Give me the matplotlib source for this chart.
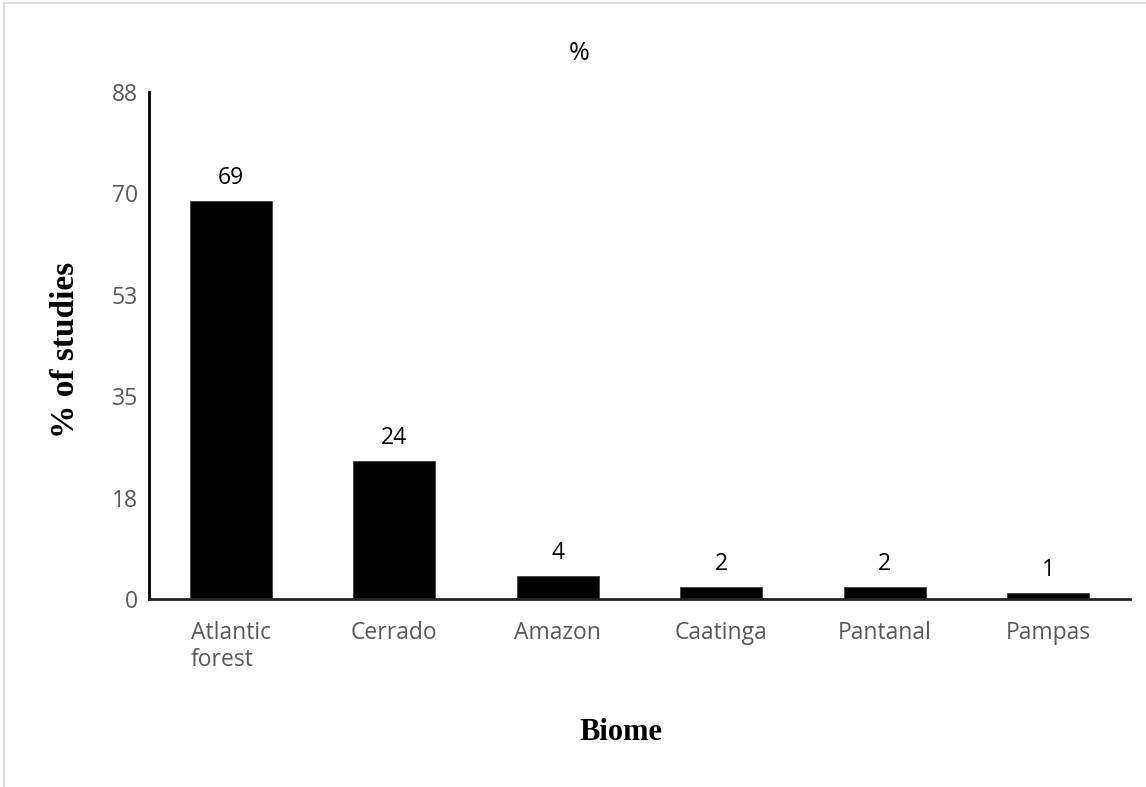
import matplotlib.pyplot as plt
from matplotlib.patches import Rectangle

# Share of studies by Brazilian biome
biomes = ['Atlantic\nforest', 'Cerrado', 'Amazon', 'Caatinga', 'Pantanal', 'Pampas']
pct_studies = [69, 24, 4, 2, 2, 1]

# Y axis runs 0..88 in five equal steps, labels rounded to whole numbers
y_max = 88
y_ticks = [0, 17.6, 35.2, 52.8, 70.4, 88]
y_tick_labels = ['0', '18', '35', '53', '70', '88']

plt.rcParams['font.family'] = ['Open Sans', 'DejaVu Sans']

fig = plt.figure(figsize=(11.46, 7.87), dpi=100)
ax = fig.add_axes([0.130, 0.2389, 0.856, 0.6442])

x = range(len(biomes))
bars = ax.bar(x, pct_studies, width=0.5, color='black', edgecolor='#404040', linewidth=0.6)

# value labels above each bar
for rect, v in zip(bars, pct_studies):
    ax.annotate(str(v), (rect.get_x() + rect.get_width() / 2, v),
                xytext=(0, 8), textcoords='offset points',
                ha='center', va='bottom', fontsize=16.5, color='black')

ax.set_xlim(-0.5, len(biomes) - 0.5)
ax.set_ylim(0, y_max)
ax.set_yticks(y_ticks)
ax.set_yticklabels(y_tick_labels)
ax.set_xticks(list(x))
ax.set_xticklabels(biomes, multialignment='left', linespacing=1.15)

ax.tick_params(axis='y', length=0, pad=8, labelsize=16.5, labelcolor='#595959')
ax.tick_params(axis='x', length=0, pad=16, labelsize=16.5, labelcolor='#595959')

for side in ['top', 'right']:
    ax.spines[side].set_visible(False)
ax.spines['left'].set_linewidth(2)
ax.spines['bottom'].set_linewidth(2)
ax.spines['left'].set_color('black')
ax.spines['bottom'].set_color('#222222')

# titles and axis names
fig.text(0.505, 0.932, '%', ha='center', va='center', fontsize=18, color='black')
fig.text(0.542, 0.069, 'Biome', ha='center', va='center', fontsize=22,
         fontweight='bold', family='Liberation Serif')
fig.text(0.057, 0.555, '% of studies', ha='center', va='center', rotation=90,
         fontsize=24, fontweight='bold', family='Liberation Serif')

# thin chart-area border
fig.patches.append(Rectangle((0.0035, -0.01), 1.0, 1.006, transform=fig.transFigure,
                             fill=False, edgecolor='#d9d9d9', linewidth=1.2))

fig.savefig('out.png', dpi=100)
